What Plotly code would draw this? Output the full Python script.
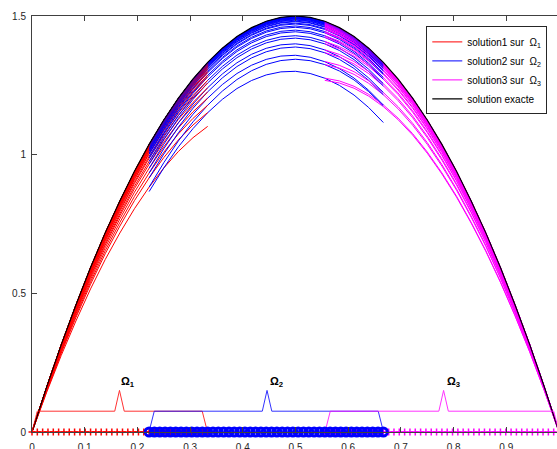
import plotly.graph_objects as go

# ---------------- data ----------------
# exact solution sampled on x = k/36
grid_x = [k / 36 for k in range(37)]
exact_y = [0, 0.162, 0.315, 0.458, 0.593, 0.718, 0.833, 0.940, 1.037, 1.125, 1.204,
           1.273, 1.333, 1.384, 1.426, 1.458, 1.481, 1.495, 1.500, 1.495, 1.481, 1.458,
           1.426, 1.384, 1.333, 1.273, 1.204, 1.125, 1.037, 0.940, 0.833, 0.718, 0.593,
           0.458, 0.315, 0.162, 0]

# grid index ranges of the sub-domains  (Ω1=[0,1/3], Ω2=[2/9,2/3], Ω3=[5/9,1])
dom1 = (0, 12)
dom2 = (8, 24)
dom3 = (20, 36)

# per iteration: value of solution1 at x=1/3
red_end = [1.102, 1.152, 1.178, 1.204, 1.226, 1.241, 1.258, 1.268, 1.281, 1.287,
           1.296, 1.300, 1.307, 1.310, 1.314, 1.317, 1.320, 1.321, 1.324, 1.325,
           1.327, 1.327, 1.328, 1.329, 1.330, 1.330, 1.331, 1.331, 1.332, 1.332]
# solution2 at x=2/9 and x=2/3
blue_left = [0.867, 0.883, 0.916, 0.934, 0.951, 0.966, 0.976, 0.987, 0.993, 1.002,
             1.006, 1.012, 1.015, 1.019, 1.021, 1.024, 1.026, 1.028, 1.029, 1.031,
             1.031, 1.033, 1.033, 1.034, 1.034, 1.035, 1.035, 1.035, 1.036, 1.036]
blue_right = [1.116, 1.176, 1.179, 1.216, 1.224, 1.248, 1.256, 1.272, 1.278, 1.289,
              1.294, 1.302, 1.305, 1.311, 1.313, 1.317, 1.319, 1.322, 1.323, 1.325,
              1.326, 1.328, 1.328, 1.329, 1.330, 1.330, 1.331, 1.331, 1.331, 1.332]
# solution3 at x=5/9
mag_left = [1.268, 1.276, 1.325, 1.336, 1.368, 1.378, 1.400, 1.408, 1.423, 1.429,
            1.440, 1.444, 1.452, 1.455, 1.460, 1.463, 1.466, 1.468, 1.471, 1.472,
            1.474, 1.475, 1.476, 1.477, 1.478, 1.478, 1.479, 1.479, 1.480, 1.480]

# sub-domain indicator polylines
ind1_x = [0, 0.010, 0.157, 0.166, 0.175, 0.323, 0.333]
ind1_y = [0, 0.075, 0.075, 0.150, 0.075, 0.075, 0]
ind2_x = [0.222, 0.232, 0.437, 0.446, 0.455, 0.657, 0.667]
ind2_y = [0, 0.075, 0.075, 0.150, 0.075, 0.075, 0]
ind3_x = [0.556, 0.566, 0.772, 0.781, 0.790, 0.990, 1.000]
ind3_y = [0, 0.075, 0.075, 0.150, 0.075, 0.075, 0]

# mesh nodes (N = 99 intervals)
mesh1 = [i / 99 for i in range(0, 34)]
mesh2 = [i / 99 for i in range(22, 67)]
mesh3 = [i / 99 for i in range(55, 100)]

labels = ["Ω<sub>1</sub>", "Ω<sub>2</sub>", "Ω<sub>3</sub>"]
label_x = [0.165, 0.448, 0.783]
label_y = [0.18, 0.18, 0.18]

xticks = [0, 0.1, 0.2, 0.3, 0.4, 0.5, 0.6, 0.7, 0.8, 0.9]
yticks = [0, 0.5, 1, 1.5]

RED, BLUE, MAG = "#ff0000", "#0000ff", "#ff00ff"

fig = go.Figure()


def sub_curve(dom, left_val, right_val):
    a, b = dom
    xa, xb = grid_x[a], grid_x[b]
    ea = exact_y[a] - left_val
    eb = exact_y[b] - right_val
    xs, ys = [], []
    for i in range(a, b + 1):
        t = (grid_x[i] - xa) / (xb - xa)
        xs.append(grid_x[i])
        ys.append(exact_y[i] - (ea * (1 - t) + eb * t))
    return xs, ys


for k in range(len(red_end)):
    xs, ys = sub_curve(dom1, 0.0, red_end[k])
    fig.add_trace(go.Scatter(x=xs, y=ys, mode="lines", line=dict(color=RED, width=1),
                             name="solution1 sur  Ω<sub>1</sub>", legendgroup="s1",
                             showlegend=(k == 0), hoverinfo="skip"))
    xs, ys = sub_curve(dom2, blue_left[k], blue_right[k])
    fig.add_trace(go.Scatter(x=xs, y=ys, mode="lines", line=dict(color=BLUE, width=1),
                             name="solution2 sur  Ω<sub>2</sub>", legendgroup="s2",
                             showlegend=(k == 0), hoverinfo="skip"))
    xs, ys = sub_curve(dom3, mag_left[k], 0.0)
    fig.add_trace(go.Scatter(x=xs, y=ys, mode="lines", line=dict(color=MAG, width=1),
                             name="solution3 sur  Ω<sub>3</sub>", legendgroup="s3",
                             showlegend=(k == 0), hoverinfo="skip"))

fig.add_trace(go.Scatter(x=grid_x, y=exact_y, mode="lines", line=dict(color="black", width=1.2),
                         name="solution exacte", hoverinfo="skip"))

# indicators
for ix, iy, c in [(ind1_x, ind1_y, RED), (ind2_x, ind2_y, BLUE), (ind3_x, ind3_y, MAG)]:
    fig.add_trace(go.Scatter(x=ix, y=iy, mode="lines", line=dict(color=c, width=1),
                             opacity=0.8, showlegend=False, hoverinfo="skip"))

# mesh markers
fig.add_trace(go.Scatter(x=mesh1, y=[0] * len(mesh1), mode="lines+markers",
                         line=dict(color=RED, width=1.5, dash="dot"),
                         marker=dict(symbol="cross-thin", size=5, color=RED,
                                     line=dict(color=RED, width=1.5)),
                         showlegend=False, hoverinfo="skip", cliponaxis=False))
fig.add_trace(go.Scatter(x=mesh3, y=[0] * len(mesh3), mode="lines+markers",
                         line=dict(color=MAG, width=1.5, dash="dot"),
                         marker=dict(symbol="cross-thin", size=5, color=MAG,
                                     line=dict(color=MAG, width=1.5)),
                         showlegend=False, hoverinfo="skip", cliponaxis=False))
fig.add_trace(go.Scatter(x=mesh2, y=[0] * len(mesh2), mode="markers",
                         marker=dict(symbol="circle-open", size=8, color=BLUE,
                                     line=dict(color=BLUE, width=3)),
                         showlegend=False, hoverinfo="skip", cliponaxis=False))

for t, lx, ly in zip(labels, label_x, label_y):
    fig.add_annotation(x=lx, y=ly, text="<b>" + t + "</b>", showarrow=False,
                       xanchor="left", yanchor="middle",
                       font=dict(family="Liberation Sans", size=11, color="black"))

axis_col = "#404040"
fig.update_layout(
    width=557, height=449,
    margin=dict(l=32, r=0, t=16, b=17, autoexpand=False),
    paper_bgcolor="white", plot_bgcolor="white",
    font=dict(family="Liberation Sans", size=10, color="#262626"),
    xaxis=dict(range=[0, 0.9962], tickvals=xticks, ticktext=[str(v) for v in xticks],
               ticks="inside", ticklen=5, tickcolor=axis_col, showline=True,
               linecolor=axis_col, linewidth=1, mirror="ticks", showgrid=False,
               zeroline=False, ticklabelstandoff=6, automargin=False,
               tickfont=dict(size=10, color="#262626")),
    yaxis=dict(range=[0, 1.5], tickvals=yticks, ticktext=["0", "0.5", "1", "1.5"],
               ticks="inside", ticklen=5, tickcolor=axis_col, showline=True,
               linecolor=axis_col, linewidth=1, mirror=False, showgrid=False,
               zeroline=False, ticklabelstandoff=3, automargin=False,
               tickfont=dict(size=10, color="#262626")),
    legend=dict(x=0.9815, y=0.975, xanchor="right", yanchor="top",
                bgcolor="white", bordercolor="#262626", borderwidth=1,
                font=dict(family="Liberation Sans", size=10, color="black"),
                tracegroupgap=0),
)

fig.write_html("out.html", config={"displayModeBar": False},
               post_script="document.body.style.margin='0';document.body.style.overflow='hidden';")
